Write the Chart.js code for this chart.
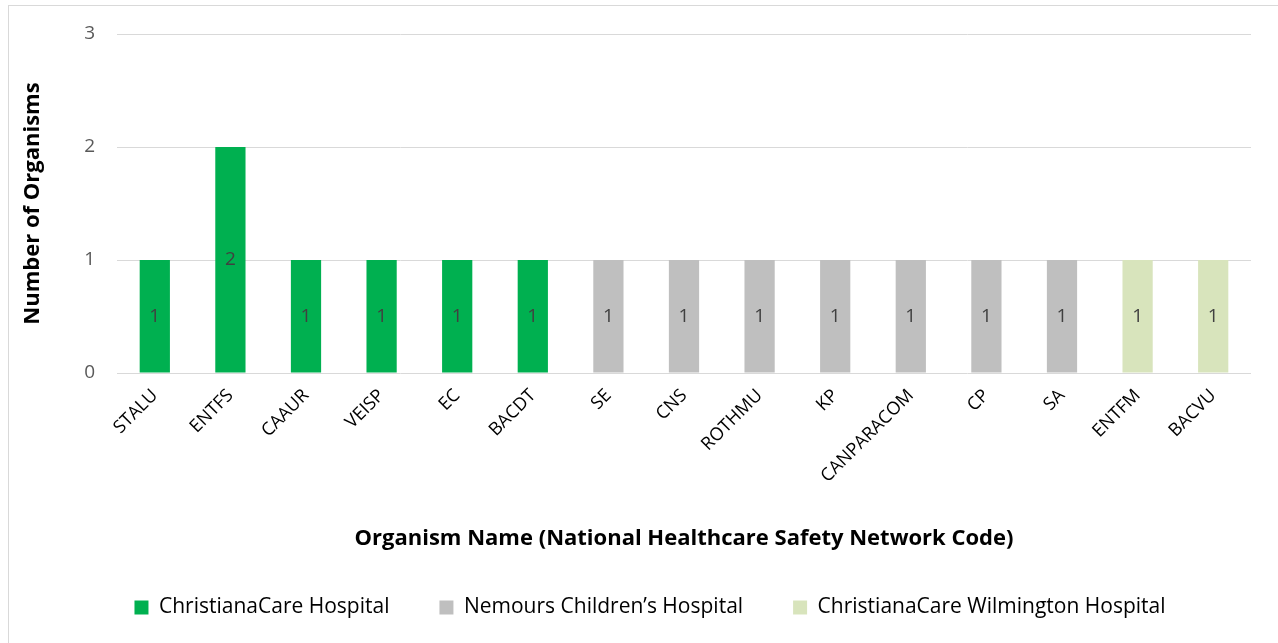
<!DOCTYPE html>
<html>
<head>
<meta charset="utf-8">
<script src="https://cdn.jsdelivr.net/npm/chart.js@4"></script>
<style>
    html, body { margin: 0; padding: 0; background: #fff; overflow: hidden; }
    #wrap { position: relative; width: 1278px; height: 643px; }
    #frame { position: absolute; left: 8px; top: 5px; width: 1290px; height: 660px; border: 1px solid #D9D9D9; box-sizing: border-box; }
    #chart { position: absolute; left: 0; top: 0; }
</style>
</head>
<body>
<div id="wrap">
    <div id="frame"></div>
    <canvas id="chart" width="1278" height="643"></canvas>
</div>
<script>
const categories = ['STALU', 'ENTFS', 'CAAUR', 'VEISP', 'EC', 'BACDT', 'SE', 'CNS', 'ROTHMU', 'KP', 'CANPARACOM', 'CP', 'SA', 'ENTFM', 'BACVU'];
const christianaCare = [1, 2, 1, 1, 1, 1, null, null, null, null, null, null, null, null, null];
const nemours = [null, null, null, null, null, null, 1, 1, 1, 1, 1, 1, 1, null, null];
const wilmington = [null, null, null, null, null, null, null, null, null, null, null, null, null, 1, 1];
const yTicks = [0, 1, 2, 3];

const FONT = "'Open Sans', 'Noto Sans', sans-serif";

// draws the value in the middle of each bar
const barLabels = {
    id: 'barLabels',
    afterDatasetsDraw(chart) {
        const ctx = chart.ctx;
        ctx.save();
        ctx.font = '19px ' + FONT;
        ctx.fillStyle = '#404040';
        ctx.textAlign = 'center';
        ctx.textBaseline = 'middle';
        chart.data.datasets.forEach((ds, i) => {
            chart.getDatasetMeta(i).data.forEach((bar, j) => {
                if (ds.data[j] === null) return;
                ctx.fillText(ds.data[j], bar.x, (bar.y + bar.base) / 2);
            });
        });
        ctx.restore();
    }
};

new Chart(document.getElementById('chart'), {
    type: 'bar',
    data: {
        labels: categories,
        datasets: [
            { label: 'ChristianaCare Hospital', data: christianaCare, backgroundColor: '#00B050' },
            { label: 'Nemours Children\u2019s Hospital', data: nemours, backgroundColor: '#BFBFBF' },
            { label: 'ChristianaCare Wilmington Hospital', data: wilmington, backgroundColor: '#D8E4BC' }
        ]
    },
    options: {
        responsive: false,
        animation: false,
        layout: { padding: { left: 49, top: 34, right: 27, bottom: 15 } },
        datasets: { bar: { categoryPercentage: 1, barPercentage: 0.4 } },
        scales: {
            x: {
                stacked: true,
                grid: { display: false },
                border: { display: false },
                ticks: {
                    color: '#000',
                    font: { family: FONT, size: 18 },
                    minRotation: 45,
                    maxRotation: 45,
                    autoSkip: false,
                    padding: 4
                },
                title: {
                    display: true,
                    text: 'Organism Name (National Healthcare Safety Network Code)',
                    color: '#000',
                    font: { family: FONT, size: 22, weight: 'bold' },
                    padding: { top: 10, bottom: -5 }
                },
                afterFit(scale) { scale.height = 174; }
            },
            y: {
                stacked: true,
                min: 0,
                max: 3,
                afterBuildTicks(scale) { scale.ticks = yTicks.map(v => ({ value: v })); },
                grid: { color: '#D9D9D9', drawTicks: false },
                border: { display: false },
                ticks: {
                    color: '#595959',
                    font: { family: FONT, size: 19 },
                    padding: 22
                },
                title: {
                    display: true,
                    text: 'Number of Organisms',
                    color: '#000',
                    font: { family: FONT, size: 22, weight: 'bold' },
                    padding: { top: -29, bottom: 20 }
                },
                afterFit(scale) { scale.width = 68; }
            }
        },
        plugins: {
            legend: {
                position: 'bottom',
                labels: {
                    color: '#000',
                    font: { family: FONT, size: 21 },
                    boxWidth: 14,
                    boxHeight: 14,
                    padding: 50
                }
            },
            tooltip: { enabled: false }
        }
    },
    plugins: [barLabels]
});
</script>
</body>
</html>
